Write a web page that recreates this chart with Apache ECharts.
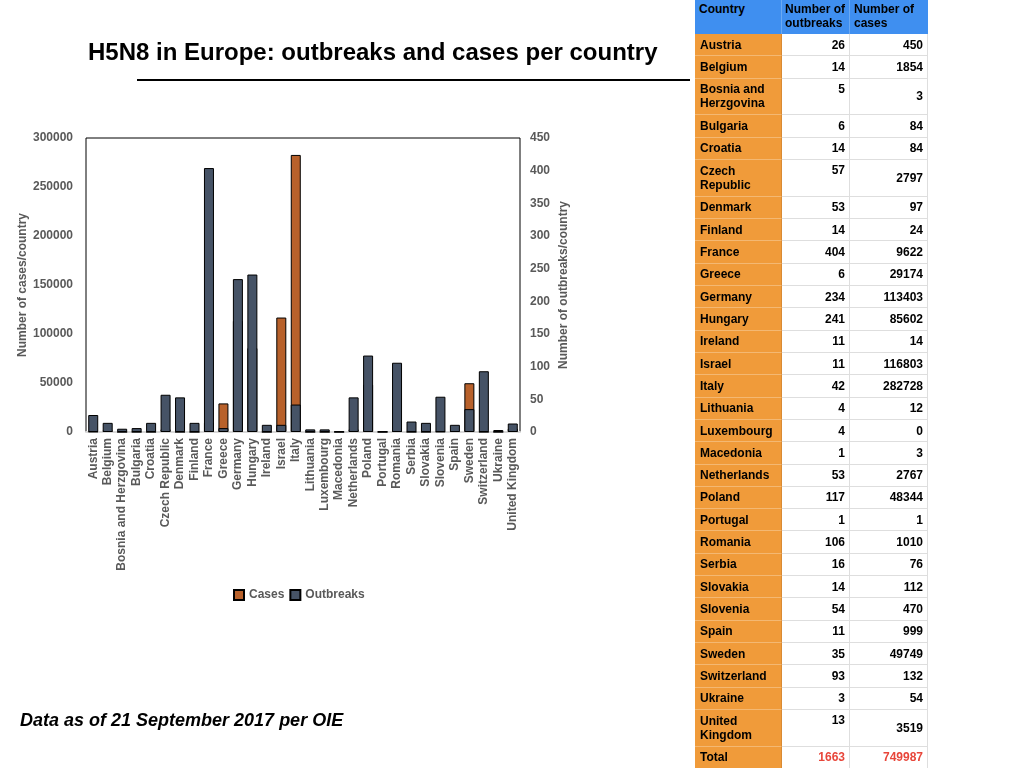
<!DOCTYPE html>
<html>
<head>
<meta charset="utf-8">
<script src="https://cdn.jsdelivr.net/npm/echarts@6/dist/echarts.min.js"></script>
<style>
  html, body { margin: 0; padding: 0; background: #fff; }
  #chart { position: absolute; left: 0; top: 0; width: 1024px; height: 768px; }
  #table { position: absolute; left: 695px; top: 0; width: 233px; height: 768px; overflow: hidden;
           font-family: "Liberation Sans", Arial, sans-serif; font-weight: bold; font-size: 12px; color: #000; }
  .cell { position: absolute; box-sizing: border-box; line-height: 14px; white-space: nowrap; }
  .hdr { background: #3f8ff0; border-right: 1px solid #6aa9f3; padding: 2px 0 0 4px; }
  .cty { background: #f09b3a; border-bottom: 1px solid #f4b872; border-right: 1px solid #d98a33; padding: 0 5px; display: flex; align-items: center; }
  .num { background: #fff; border-bottom: 1px solid #dedede; border-right: 1px solid #dedede; padding: 0 4px; display: flex; justify-content: flex-end; }
  .tot { color: #e8463a; }
</style>
</head>
<body>
<div id="chart"></div>
<div id="table"></div>
<script>
const countries = ["Austria","Belgium","Bosnia and Herzgovina","Bulgaria","Croatia","Czech Republic","Denmark","Finland","France","Greece","Germany","Hungary","Ireland","Israel","Italy","Lithuania","Luxembourg","Macedonia","Netherlands","Poland","Portugal","Romania","Serbia","Slovakia","Slovenia","Spain","Sweden","Switzerland","Ukraine","United Kingdom"];
const tableNames = ["Austria","Belgium","Bosnia and<br>Herzgovina","Bulgaria","Croatia","Czech<br>Republic","Denmark","Finland","France","Greece","Germany","Hungary","Ireland","Israel","Italy","Lithuania","Luxembourg","Macedonia","Netherlands","Poland","Portugal","Romania","Serbia","Slovakia","Slovenia","Spain","Sweden","Switzerland","Ukraine","United<br>Kingdom"];
const outbreaks = [26,14,5,6,14,57,53,14,404,6,234,241,11,11,42,4,4,1,53,117,1,106,16,14,54,11,35,93,3,13];
const cases = [450,1854,3,84,84,2797,97,24,9622,29174,113403,85602,14,116803,282728,12,0,3,2767,48344,1,1010,76,112,470,999,49749,132,54,3519];
const totalOutbreaks = 1663;
const totalCases = 749987;
const leftTicks = [0, 300000, 50000];
const rightTicks = [0, 450, 50];

const chart = echarts.init(document.getElementById('chart'));
const gray = '#595959';
const font = '"Liberation Sans", Arial, sans-serif';
chart.setOption({
  animation: false,
  textStyle: { fontFamily: font },
  title: {
    text: 'H5N8 in Europe: outbreaks and cases per country',
    left: 83, top: 36,
    textStyle: { fontSize: 24, fontWeight: 'bold', color: '#000', fontFamily: font }
  },
  graphic: [
    { type: 'line', shape: { x1: 137, y1: 80, x2: 690, y2: 80 }, style: { stroke: '#000', lineWidth: 2 } },
    { type: 'text', left: 20, top: 712, style: { text: 'Data as of 21 September 2017 per OIE', font: 'italic bold 18px "Liberation Sans", Arial, sans-serif', fill: '#000' } }
  ],
  legend: {
    left: 228, top: 584, itemWidth: 10, itemHeight: 10, itemGap: 5,
    selectedMode: false,
    textStyle: { color: gray, fontWeight: 'bold', fontSize: 12 },
    data: [{ name: 'Cases', icon: 'rect' }, { name: 'Outbreaks', icon: 'rect' }]
  },
  grid: { left: 86, top: 138, width: 434, height: 294, show: true, borderColor: '#000', borderWidth: 1 },
  xAxis: {
    type: 'category', data: countries,
    axisLine: { show: true, lineStyle: { color: '#d9d9d9', width: 2 } },
    axisTick: { show: false },
    axisLabel: { interval: 0, rotate: 90, color: gray, fontWeight: 'bold', fontSize: 12, margin: 6 }
  },
  yAxis: [
    {
      type: 'value', min: leftTicks[0], max: leftTicks[1], interval: leftTicks[2],
      name: 'Number of cases/country', nameLocation: 'middle', nameGap: 52,
      nameTextStyle: { color: gray, fontWeight: 'bold', fontSize: 12 },
      splitLine: { show: false }, axisLine: { show: false }, axisTick: { show: false },
      axisLabel: { color: gray, fontWeight: 'bold', fontSize: 12, margin: 13, formatter: v => String(v) }
    },
    {
      type: 'value', min: rightTicks[0], max: rightTicks[1], interval: rightTicks[2],
      name: 'Number of outbreaks/country', nameLocation: 'middle', nameGap: 38,
      nameTextStyle: { color: gray, fontWeight: 'bold', fontSize: 12 },
      splitLine: { show: false }, axisLine: { show: false }, axisTick: { show: false },
      axisLabel: { color: gray, fontWeight: 'bold', fontSize: 12, margin: 10, formatter: v => String(v) }
    }
  ],
  series: [
    { name: 'Cases', type: 'bar', yAxisIndex: 0, data: cases, barWidth: 10, barGap: '-100%', z: 1,
      itemStyle: { color: '#b8612b', borderColor: '#000', borderWidth: 1 } },
    { name: 'Outbreaks', type: 'bar', yAxisIndex: 1, data: outbreaks, barWidth: 10, barGap: '-100%', z: 3, zlevel: 1,
      itemStyle: { color: '#465366', borderColor: '#000', borderWidth: 1 } }
  ]
});

// table
const tbl = document.getElementById('table');
const colX = [0, 87, 155];
const colW = [87, 68, 78];
function cell(cls, x, y, w, h, html, style) {
  const d = document.createElement('div');
  d.className = 'cell ' + cls;
  d.style.left = x + 'px'; d.style.top = y + 'px'; d.style.width = w + 'px'; d.style.height = h + 'px';
  if (style) Object.assign(d.style, style);
  d.innerHTML = html;
  tbl.appendChild(d);
}
const hdrH = 34;
cell('hdr', colX[0], 0, colW[0], hdrH, 'Country');
cell('hdr', colX[1], 0, colW[1], hdrH, 'Number of<br>outbreaks', { paddingLeft: '3px' });
cell('hdr', colX[2], 0, colW[2], hdrH, 'Number of<br>cases', { borderRight: 'none' });
let y = hdrH;
for (let i = 0; i < countries.length; i++) {
  const dbl = tableNames[i].indexOf('<br>') >= 0;
  const h = dbl ? 36.7 : 22.32;
  cell('cty', colX[0], y, colW[0], h, '<span>' + tableNames[i] + '</span>');
  cell('num', colX[1], y, colW[1], h, String(outbreaks[i]), dbl ? { alignItems: 'flex-start', paddingTop: '3px' } : { alignItems: 'center' });
  cell('num', colX[2], y, colW[2], h, String(cases[i]), { alignItems: 'center' });
  y += h;
}
cell('cty', colX[0], y, colW[0], 22.32, 'Total');
cell('num tot', colX[1], y, colW[1], 22.32, String(totalOutbreaks), { alignItems: 'center' });
cell('num tot', colX[2], y, colW[2], 22.32, String(totalCases), { alignItems: 'center' });
</script>
</body>
</html>
